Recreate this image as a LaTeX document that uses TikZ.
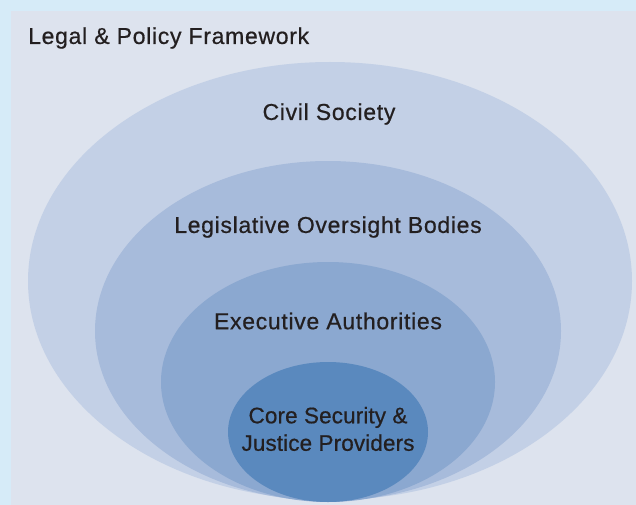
\documentclass[tikz,border=0pt]{standalone}
\usepackage{fontspec}
\setmainfont{Liberation Sans}
\usetikzlibrary{positioning}
\definecolor{pageblue}{HTML}{D6EBF8}
\definecolor{panelgrey}{HTML}{DDE3EE}
\definecolor{ringA}{HTML}{C3D0E6}
\definecolor{ringB}{HTML}{A7BBDB}
\definecolor{ringC}{HTML}{8BA8D0}
\definecolor{ringD}{HTML}{5A89BE}
\definecolor{labeltext}{HTML}{231F20}

\begin{document}
\begin{tikzpicture}
    [
        x=1pt, y=-1pt,
        ring_label/.style={text=labeltext, font=\fontsize{23}{27.5}\selectfont\addfontfeature{LetterSpace=3, FakeBold=0.6}, align=center, inner sep=0pt},
        core_label/.style={ring_label, font=\fontsize{22.5}{27.5}\selectfont\addfontfeature{LetterSpace=0.5, FakeBold=0.6}},
    ]
        \fill[pageblue] (0,0) rectangle (636,505) ;
        \fill[panelgrey] (11,11) rectangle (636,505) ;
        \fill[ringA] (330,281) ellipse [x radius=302, y radius=219] ;
        \fill[ringB] (328,331) ellipse [x radius=233, y radius=170] ;
        \fill[ringC] (328,382) ellipse [x radius=167, y radius=120] ;
        \fill[ringD] (328,432) ellipse [x radius=100, y radius=70] ;
        \node[ring_label, anchor=west] (framework) at (28,38) {Legal \& Policy Framework} ;
        \node[ring_label] (civil) at (329,114) {Civil Society} ;
        \node[ring_label] (legis) at (328,227) {Legislative Oversight Bodies} ;
        \node[ring_label] (exec) at (328,321) {Executive Authorities} ;
        \node[core_label] (core) at (328,429) {Core Security \&\\Justice Providers} ;
    \end{tikzpicture}
\end{document}
